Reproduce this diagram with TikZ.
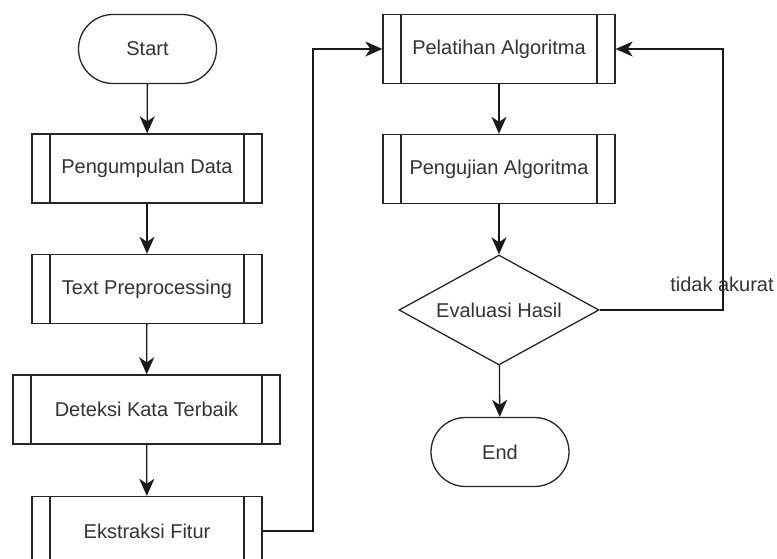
\documentclass[tikz,border=0pt]{standalone}
\usepackage{fontspec}
\setmainfont{Liberation Sans}
\usetikzlibrary{shapes.geometric,shapes.misc,arrows.meta}
\tikzset{
  base/.style={draw=black!85, line width=1.3pt, font=\fontsize{20}{23}\selectfont, text=black!80, inner sep=0pt},
  terminal/.style={base, rounded rectangle, minimum width=138pt, minimum height=69pt},
  subproc/.style={base, rectangle, minimum height=69pt,
    path picture={
      \draw[line width=1.3pt, draw=black!85] ([xshift=18pt]path picture bounding box.north west) -- ([xshift=18pt]path picture bounding box.south west);
      \draw[line width=1.3pt, draw=black!85] ([xshift=-18pt]path picture bounding box.north east) -- ([xshift=-18pt]path picture bounding box.south east);
    }},
  decision/.style={base, diamond, aspect=1.82, minimum width=200pt, minimum height=110pt},
  arr/.style={line width=1.3pt, draw=black!90, -{Stealth[length=17pt,width=15pt,inset=5pt]}},
  lbltext/.style={font=\fontsize{20}{23}\selectfont, text=black!80, inner sep=0pt}
}
\begin{document}
\begin{tikzpicture}[x=1pt,y=-1pt]
\useasboundingbox (0,0) rectangle (777,559);
\node[terminal] (start) at (147.5,49) {Start};
\node[subproc, minimum width=230pt] (kumpul) at (147,168.5) {Pengumpulan Data};
\node[subproc, minimum width=230pt] (prep) at (147,289) {Text Preprocessing};
\node[subproc, minimum width=267pt] (deteksi) at (146.5,409.5) {Deteksi Kata Terbaik};
\node[subproc, minimum width=230pt] (ekstrak) at (147,531) {Ekstraksi Fitur};
\node[subproc, minimum width=232pt] (latih) at (499,49) {Pelatihan Algoritma};
\node[subproc, minimum width=232pt] (uji) at (499,169) {Pengujian Algoritma};
\node[decision] (eval) at (499,310) {Evaluasi Hasil};
\node[terminal] (end) at (500,452) {End};
\coordinate (fb) at (723,310);
\coordinate (ek) at (313,531);
\draw[arr] (start) -- (kumpul);
\draw[arr] (kumpul) -- (prep);
\draw[arr] (prep) -- (deteksi);
\draw[arr] (deteksi) -- (ekstrak);
\draw[arr] (ekstrak.east) -- (ek) |- (latih.west);
\draw[arr] (latih) -- (uji);
\draw[arr] (uji) -- (eval);
\draw[arr] (eval) -- (end);
\draw[arr] (eval.east) -- (fb) |- (latih.east);
\node[lbltext] (lbl) at (722,284) {tidak akurat};
\end{tikzpicture}
\end{document}
